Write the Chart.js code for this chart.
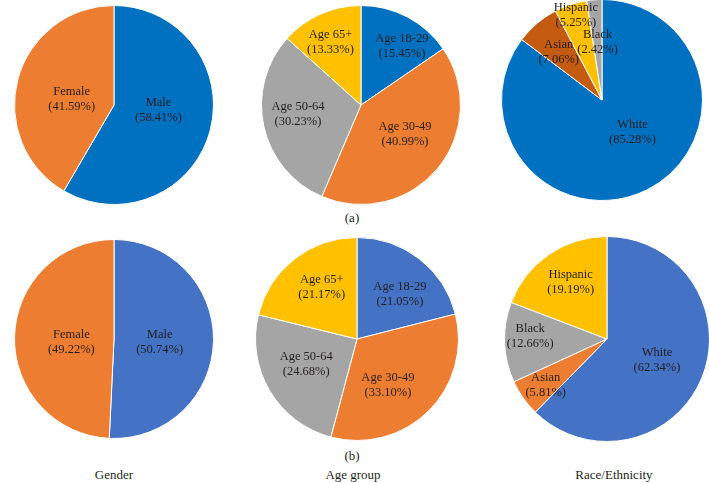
<!DOCTYPE html>
<html>
<head>
<meta charset="utf-8">
<script src="https://cdn.jsdelivr.net/npm/chart.js@4/dist/chart.umd.min.js"></script>
<style>
  html, body { margin: 0; padding: 0; background: #ffffff; }
  #wrap { position: relative; width: 709px; height: 483px; overflow: hidden; background: #fff; }
  canvas { position: absolute; }
  .txt { position: absolute; font-family: "Liberation Serif", "DejaVu Serif", serif; font-size: 13px; color: #231f20; transform: translate(-50%, -50%); white-space: nowrap; }
</style>
</head>
<body>
<div id="wrap">
  <canvas id="c1"></canvas><canvas id="c2"></canvas><canvas id="c3"></canvas>
  <canvas id="c4"></canvas><canvas id="c5"></canvas><canvas id="c6"></canvas>
  <div class="txt" style="left:352px;top:218px;">(a)</div>
  <div class="txt" style="left:352px;top:456px;">(b)</div>
  <div class="txt" style="left:114px;top:475px;">Gender</div>
  <div class="txt" style="left:353px;top:475px;">Age group</div>
  <div class="txt" style="left:614px;top:475px;">Race/Ethnicity</div>
</div>
<script>
// ---- Data ----
const genderLabels = ['Male', 'Female'];
const genderA = [58.41, 41.59];
const genderB = [50.74, 49.22];

const ageLabels = ['Age 18-29', 'Age 30-49', 'Age 50-64', 'Age 65+'];
const ageA = [15.45, 40.99, 30.23, 13.33];
const ageB = [21.05, 33.10, 24.68, 21.17];

const raceLabelsA = ['White', 'Asian', 'Hispanic', 'Black'];
const raceA = [85.28, 7.06, 5.25, 2.42];
const raceLabelsB = ['White', 'Asian', 'Black', 'Hispanic'];
const raceB = [62.34, 5.81, 12.66, 19.19];

// ---- Styles ----
const BLUE_A = '#0070C0', BLUE_B = '#4472C4', ORANGE = '#ED7D31', GRAY = '#A5A5A5', YELLOW = '#FFC000', DKORANGE = '#C55A11';

const sliceLabels = {
  id: 'sliceLabels',
  afterDatasetsDraw(chart, args, opts) {
    const ctx = chart.ctx;
    const meta = chart.getDatasetMeta(0);
    const data = chart.data.datasets[0].data;
    const labels = chart.data.labels;
    ctx.save();
    ctx.font = '12.5px "Liberation Serif", "DejaVu Serif", serif';
    ctx.fillStyle = '#231f20';
    ctx.textAlign = 'center';
    ctx.textBaseline = 'middle';
    meta.data.forEach((arc, i) => {
      const p = arc.getProps(['x', 'y', 'startAngle', 'endAngle', 'outerRadius'], true);
      const mid = (p.startAngle + p.endAngle) / 2 + (opts.shift[i] || 0) * Math.PI / 180;
      const r = p.outerRadius * opts.dist[i];
      const lx = p.x + Math.cos(mid) * r;
      const ly = p.y + Math.sin(mid) * r;
      ctx.fillText(labels[i], lx, ly - 7.5);
      ctx.fillText('(' + Number(data[i]).toFixed(2) + '%)', lx, ly + 7.5);
    });
    ctx.restore();
  }
};

function makePie(id, cx, cy, r, labels, values, colors, dist, shift) {
  const cv = document.getElementById(id);
  const size = Math.round(2 * r);
  cv.width = size; cv.height = size;
  cv.style.width = size + 'px'; cv.style.height = size + 'px';
  cv.style.left = (cx - size / 2) + 'px';
  cv.style.top = (cy - size / 2) + 'px';
  new Chart(cv, {
    type: 'pie',
    data: {
      labels: labels,
      datasets: [{ data: values, backgroundColor: colors, borderColor: '#ffffff', borderWidth: 1 }]
    },
    options: {
      responsive: false,
      animation: false,
      layout: { padding: 0 },
      plugins: {
        legend: { display: false },
        tooltip: { enabled: false },
        sliceLabels: { dist: dist, shift: shift }
      }
    },
    plugins: [sliceLabels]
  });
}

makePie('c1', 114, 105, 100, genderLabels, genderA, [BLUE_A, ORANGE], [0.45, 0.43], [-9, -7]);
makePie('c2', 361, 105, 100, ageLabels, ageA, [BLUE_A, ORANGE, GRAY, YELLOW], [0.72, 0.53, 0.64, 0.70], [7, -6, 4, -2]);
makePie('c3', 602, 100, 101, raceLabelsA, raceA, [BLUE_A, DKORANGE, YELLOW, GRAY], [0.44, 0.64, 0.88, 0.58], [-17, -2, 1, 0]);
makePie('c4', 114, 338.5, 100, genderLabels, genderB, [BLUE_B, ORANGE], [0.46, 0.43], [3, -6]);
makePie('c5', 357, 338.5, 102, ageLabels, ageB, [BLUE_B, ORANGE, GRAY, YELLOW], [0.61, 0.55, 0.56, 0.62], [6, 11, 4, 4]);
makePie('c6', 607, 338.5, 103, raceLabelsB, raceB, [BLUE_B, ORANGE, GRAY, YELLOW], [0.53, 0.75, 0.75, 0.66], [1, -2, 4, 2]);
</script>
</body>
</html>
